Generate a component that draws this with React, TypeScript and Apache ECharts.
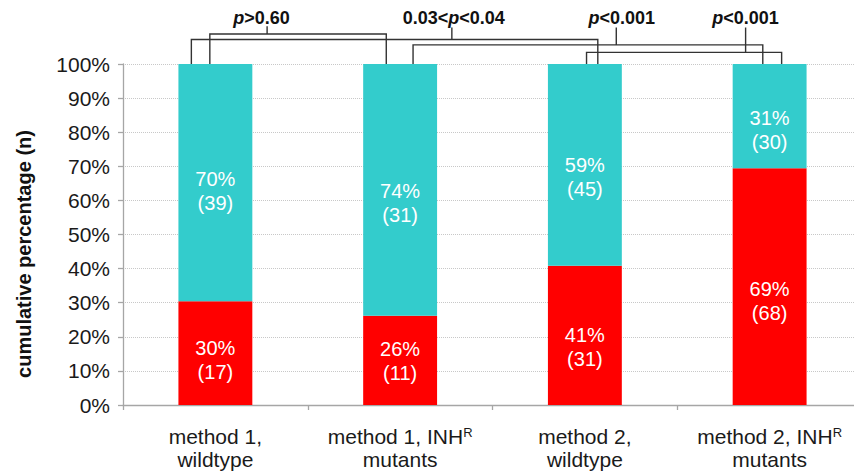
import React, { useEffect, useRef } from "react";
import * as echarts from "echarts";

// ---- data ----
const categories = [
  "method 1,\nwildtype",
  "method 1, INH{sup|R}\nmutants",
  "method 2,\nwildtype",
  "method 2, INH{sup|R}\nmutants",
];
const redPct = [30.4, 26.2, 40.8, 69.4];
const tealPct = [69.6, 73.8, 59.2, 30.6];
const redLabelPct = [30, 26, 41, 69];
const redN = [17, 11, 31, 68];
const tealLabelPct = [70, 74, 59, 31];
const tealN = [39, 31, 45, 30];
const pLabels = ["{i|p}>0.60", "0.03<{i|p}<0.04", "{i|p}<0.001", "{i|p}<0.001"];

// ---- layout / style (not data) ----
const redOffsets = [7, 1, 12, 14];
const tealOffsets = [8, 13, 12, 14];
// bracket geometry, in category units (x) and axis-value units (y)
const bracketGeom = [
  { l: -0.03, r: 0.925, h: 108.8, stem: 0.28, top: 111.1, tx: 0.25 },
  { l: -0.13, r: 2.07, h: 107.2, stem: 1.28, top: 110.7, tx: 1.29 },
  { l: 1.07, r: 2.963, h: 105.6, stem: 2.17, top: 110.7, tx: 2.2 },
  { l: 2.009, r: 3.065, h: 103.4, stem: 2.87, top: 110.7, tx: 2.87 },
];

const FONT = "'Liberation Sans', Arial, sans-serif";

export default function App() {
  const ref = useRef<HTMLDivElement>(null);
  useEffect(() => {
    if (!ref.current) return;
    const chart = echarts.init(ref.current, null, { renderer: "svg" });
    const labelStyle = {
      show: true,
      position: "inside",
      color: "#ffffff",
      fontSize: 20,
      lineHeight: 24,
      fontFamily: FONT,
    };
    chart.setOption({
      animation: false,
      backgroundColor: "#ffffff",
      grid: { left: 123, right: 0, top: 64, bottom: 65, containLabel: false },
      xAxis: {
        type: "category",
        data: categories,
        axisLine: { show: true, lineStyle: { color: "#a6a6a6", width: 1.3 } },
        axisTick: { show: true, length: 5, lineStyle: { color: "#a6a6a6", width: 1.3 } },
        axisLabel: {
          interval: 0,
          margin: 20,
          color: "#1a1a1a",
          fontSize: 21,
          lineHeight: 23,
          fontFamily: FONT,
          rich: {
            sup: { fontSize: 13, fontFamily: FONT, color: "#1a1a1a", padding: [0, 0, 9, 0] },
          },
        },
      },
      yAxis: {
        type: "value",
        min: 0,
        max: 100,
        interval: 10,
        axisLine: { show: true, lineStyle: { color: "#a6a6a6", width: 1.3 } },
        axisTick: { show: true, length: 5, lineStyle: { color: "#a6a6a6", width: 1.3 } },
        axisLabel: {
          formatter: "{value}%",
          margin: 13,
          color: "#1a1a1a",
          fontSize: 21,
          fontFamily: FONT,
        },
        splitLine: { show: true, lineStyle: { color: "#c8c8c8", type: "dotted", width: 1 } },
      },
      series: [
        {
          type: "bar",
          stack: "total",
          barWidth: "40%",
          itemStyle: { color: "#ff0000" },
          data: redPct.map((v, i) => ({
            value: v,
            label: {
              ...labelStyle,
              offset: [0, redOffsets[i]],
              formatter: `${redLabelPct[i]}%\n(${redN[i]})`,
            },
          })),
        },
        {
          type: "bar",
          stack: "total",
          barWidth: "40%",
          itemStyle: { color: "#33cccc" },
          data: tealPct.map((v, i) => ({
            value: v,
            label: {
              ...labelStyle,
              offset: [0, tealOffsets[i]],
              formatter: `${tealLabelPct[i]}%\n(${tealN[i]})`,
            },
          })),
        },
      ],
    });

    const x0 = chart.convertToPixel({ xAxisIndex: 0 }, 0) as number;
    const x1 = chart.convertToPixel({ xAxisIndex: 0 }, 1) as number;
    const xAt = (c: number) => x0 + c * (x1 - x0);
    const yAt = (v: number) => chart.convertToPixel({ yAxisIndex: 0 }, v) as number;
    const lineStyle = { stroke: "#333333", lineWidth: 1.4, fill: null };
    const elements: any[] = [];
    bracketGeom.forEach((g, k) => {
      const xl = xAt(g.l);
      const xr = xAt(g.r);
      const yh = yAt(g.h);
      const yb = yAt(100);
      elements.push({
        type: "polyline",
        shape: { points: [[xl, yb], [xl, yh], [xr, yh], [xr, yb]] },
        style: lineStyle,
        silent: true,
      });
      elements.push({
        type: "line",
        shape: { x1: xAt(g.stem), y1: yh, x2: xAt(g.stem), y2: yAt(g.top) },
        style: lineStyle,
        silent: true,
      });
      elements.push({
        type: "text",
        x: xAt(g.tx),
        y: 18,
        style: {
          text: pLabels[k],
          align: "center",
          verticalAlign: "middle",
          fontSize: 18,
          fontWeight: "bold",
          fontFamily: FONT,
          fill: "#111111",
          rich: {
            i: { fontSize: 18, fontWeight: "bold", fontStyle: "italic", fontFamily: FONT, fill: "#111111" },
          },
        },
        silent: true,
      });
    });
    elements.push({
      type: "text",
      x: 24,
      y: 254,
      rotation: Math.PI / 2,
      style: {
        text: "cumulative percentage (n)",
        align: "center",
        verticalAlign: "middle",
        fontSize: 20,
        fontWeight: "bold",
        fontFamily: FONT,
        fill: "#111111",
      },
      silent: true,
    });
    chart.setOption({ graphic: elements });
    return () => chart.dispose();
  }, []);
  return (
    <div
      style={{
        position: "absolute",
        left: 0,
        top: 0,
        width: 854,
        height: 471,
        overflow: "hidden",
      }}
    >
      <div ref={ref} style={{ width: 862, height: 471 }} />
    </div>
  );
}
